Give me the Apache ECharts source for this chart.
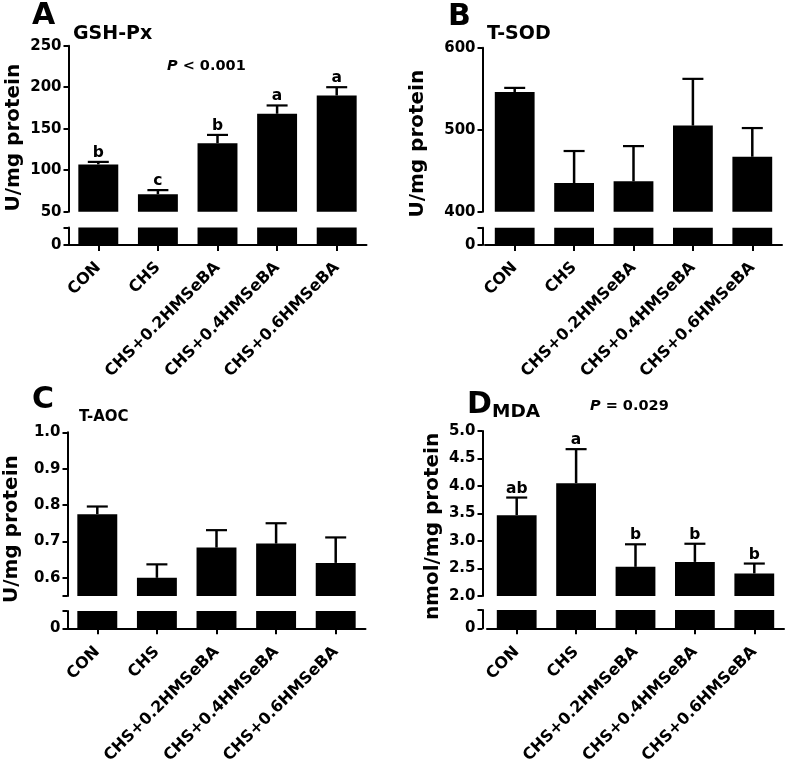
<!DOCTYPE html>
<html>
<head>
<meta charset="utf-8">
<script src="https://cdn.jsdelivr.net/npm/echarts@6/dist/echarts.min.js"></script>
<style>
html,body{margin:0;padding:0;background:#fff;}
#chart{width:787px;height:764px;}
</style>
</head>
<body>
<div id="chart"></div>
<script>
// ---- data ----
const categories = ['CON', 'CHS', 'CHS+0.2HMSeBA', 'CHS+0.4HMSeBA', 'CHS+0.6HMSeBA'];

const gshMean = [107, 71, 132.5, 168, 190];
const gshErr = [3, 5, 10, 10, 10];
const gshLetters = ['b', 'c', 'b', 'a', 'a'];
const gshTicks = [50, 100, 150, 200, 250];

const sodMean = [546, 435, 437, 505, 467];
const sodErr = [5, 39, 43, 57, 35];
const sodLetters = ['', '', '', '', ''];
const sodTicks = [400, 500, 600];

const aocMean = [0.775, 0.600, 0.683, 0.694, 0.641];
const aocErr = [0.021, 0.037, 0.048, 0.056, 0.070];
const aocLetters = ['', '', '', '', ''];
const aocTicks = [0.6, 0.7, 0.8, 0.9, 1.0];

const mdaMean = [3.47, 4.05, 2.53, 2.62, 2.41];
const mdaErr = [0.32, 0.62, 0.41, 0.33, 0.18];
const mdaLetters = ['ab', 'a', 'b', 'b', 'b'];
const mdaTicks = [2.0, 2.5, 3.0, 3.5, 4.0, 4.5, 5.0];

// ---- layout / styling ----
const FONT = '"DejaVu Sans", "Liberation Sans", Arial, sans-serif';
const grids = [], xAxes = [], yAxes = [], series = [];

function addPanel(p) {
  const gi = grids.length;
  grids.push({left: p.left, top: p.upTop, width: p.width, height: p.upH, containLabel: false, outerBoundsMode: 'none'});
  grids.push({left: p.left, top: p.lowTop, width: p.width, height: p.lowH, containLabel: false, outerBoundsMode: 'none'});

  xAxes.push({
    type: 'category', gridIndex: gi, data: categories, show: false
  });
  xAxes.push({
    type: 'category', gridIndex: gi + 1, data: categories,
    axisLine: {show: true, lineStyle: {color: '#000', width: 2}},
    axisTick: {show: true, alignWithLabel: true, length: 6, lineStyle: {color: '#000', width: 2}},
    axisLabel: {interval: 0, rotate: 45, margin: p.labelMargin, color: '#000', fontSize: 16, fontWeight: 'bold', fontFamily: FONT}
  });

  yAxes.push({
    type: 'value', gridIndex: gi, min: p.min, max: p.max,
    offset: p.offset || 0,
    name: p.yName, nameLocation: 'middle', nameGap: p.nameGap, nameRotate: 90,
    nameTextStyle: {color: '#000', fontSize: 20, fontWeight: 'bold', fontFamily: FONT, lineHeight: 20, padding: [0, p.namePad, 0, 0]},
    splitLine: {show: false},
    axisLine: {show: true, lineStyle: {color: '#000', width: 2}},
    axisTick: {show: true, length: 5, lineStyle: {color: '#000', width: 2}, customValues: p.tickVals},
    axisLabel: {color: '#000', fontSize: 15, fontWeight: 'bold', fontFamily: FONT, margin: 7,
      customValues: p.ticks,
      formatter: v => p.dec ? Number(v).toFixed(p.dec) : String(Math.round(v))}
  });
  yAxes.push({
    type: 'value', gridIndex: gi + 1, min: 0, max: p.lowMax, interval: p.lowMax,
    offset: p.offset || 0,
    splitLine: {show: false},
    axisLine: {show: true, lineStyle: {color: '#000', width: 2}},
    axisTick: {show: true, length: 5, lineStyle: {color: '#000', width: 2}},
    axisLabel: {color: '#000', fontSize: 15, fontWeight: 'bold', fontFamily: FONT, margin: 7,
      formatter: v => (v === 0 ? '0' : '')}
  });

  series.push({
    type: 'bar', xAxisIndex: gi, yAxisIndex: gi, data: p.mean, barWidth: '67%',
    itemStyle: {color: '#000'}, clip: true, silent: true
  });
  series.push({
    type: 'bar', xAxisIndex: gi + 1, yAxisIndex: gi + 1, data: p.mean, barWidth: '67%',
    itemStyle: {color: '#000'}, clip: true, silent: true
  });
  series.push({
    type: 'custom', xAxisIndex: gi, yAxisIndex: gi, silent: true,
    data: p.mean.map((m, i) => [i, m, p.err[i]]),
    renderItem: function (params, api) {
      const i = api.value(0), m = api.value(1), e = api.value(2);
      const b = api.coord([i, m]);
      const t = api.coord([i, m + e]);
      const x = b[0];
      const children = [
        {type: 'line', shape: {x1: x, y1: b[1], x2: x, y2: t[1]}, style: {stroke: '#000', lineWidth: 2.5}},
        {type: 'line', shape: {x1: x - 10.5, y1: t[1], x2: x + 10.5, y2: t[1]}, style: {stroke: '#000', lineWidth: 2.2}}
      ];
      const lt = p.letters[params.dataIndex];
      if (lt) {
        children.push({type: 'text', style: {text: lt, x: x, y: t[1] - 1,
          align: 'center', verticalAlign: 'bottom', textAlign: 'center', textVerticalAlign: 'bottom',
          fill: '#000', font: 'bold 15.5px ' + FONT}});
      }
      return {type: 'group', children: children};
    }
  });
}

addPanel({left: 68.5, width: 298, upTop: 45.7, upH: 166, lowTop: 227.5, lowH: 17.5,
  min: 50, max: 250, ticks: gshTicks, tickVals: gshTicks, dec: 0, lowMax: 30,
  mean: gshMean, err: gshErr, letters: gshLetters, labelMargin: 20,
  yName: 'U/mg protein', nameGap: 45, namePad: 18});
addPanel({left: 485, width: 297, offset: 2.5, upTop: 47.7, upH: 164, lowTop: 227.7, lowH: 17.3,
  min: 400, max: 600, ticks: sodTicks, tickVals: sodTicks, dec: 0, lowMax: 100,
  mean: sodMean, err: sodErr, letters: sodLetters, labelMargin: 20,
  yName: 'U/mg protein', nameGap: 55, namePad: 28});
addPanel({left: 67.5, width: 298, upTop: 432.3, upH: 163.7, lowTop: 611, lowH: 17.3,
  min: 0.55, max: 1.0, ticks: aocTicks, tickVals: [0.55].concat(aocTicks), dec: 1, lowMax: 0.2,
  mean: aocMean, err: aocErr, letters: aocLetters, labelMargin: 21,
  yName: 'U/mg protein', nameGap: 45.5, namePad: 30});
addPanel({left: 487, width: 297, offset: 4.5, upTop: 431, upH: 165, lowTop: 610, lowH: 18.3,
  min: 2.0, max: 5.0, ticks: mdaTicks, tickVals: mdaTicks, dec: 1, lowMax: 1,
  mean: mdaMean, err: mdaErr, letters: mdaLetters, labelMargin: 21,
  yName: 'nmol/mg protein', nameGap: 40, namePad: 26});

function txt(text, x, y, size, extra) {
  return {
    type: 'text', silent: true,
    style: Object.assign({text: text, x: x, y: y, fill: '#000',
      font: 'bold ' + size + 'px ' + FONT,
      align: 'left', verticalAlign: 'middle', textAlign: 'left', textVerticalAlign: 'middle'}, extra || {})
  };
}
const richP = {i: {fontStyle: 'italic', fontWeight: 'bold', fontSize: 14.5, fontFamily: FONT, fill: '#000', color: '#000'},
               n: {fontWeight: 'bold', fontSize: 14.5, fontFamily: FONT, fill: '#000', color: '#000'}};

const graphics = [
  txt('A', 32, 16, 30),
  txt('GSH-Px', 73, 34.5, 19),
  txt('{i|P}{n| < 0.001}', 167, 66, 14.5, {rich: richP}),
  txt('B', 448, 17, 30),
  txt('T-SOD', 487, 34.5, 19),
  txt('C', 32, 400, 30),
  txt('T-AOC', 79, 417.5, 15),
  txt('D', 467, 405, 30),
  txt('MDA', 492, 412, 18.5),
  txt('{i|P}{n| = 0.029}', 590, 406, 14.5, {rich: richP})
];

const chart = echarts.init(document.getElementById('chart'), null, {renderer: 'canvas'});
chart.setOption({
  backgroundColor: '#fff',
  animation: false,
  grid: grids,
  xAxis: xAxes,
  yAxis: yAxes,
  series: series,
  graphic: {elements: graphics}
});
</script>
</body>
</html>
